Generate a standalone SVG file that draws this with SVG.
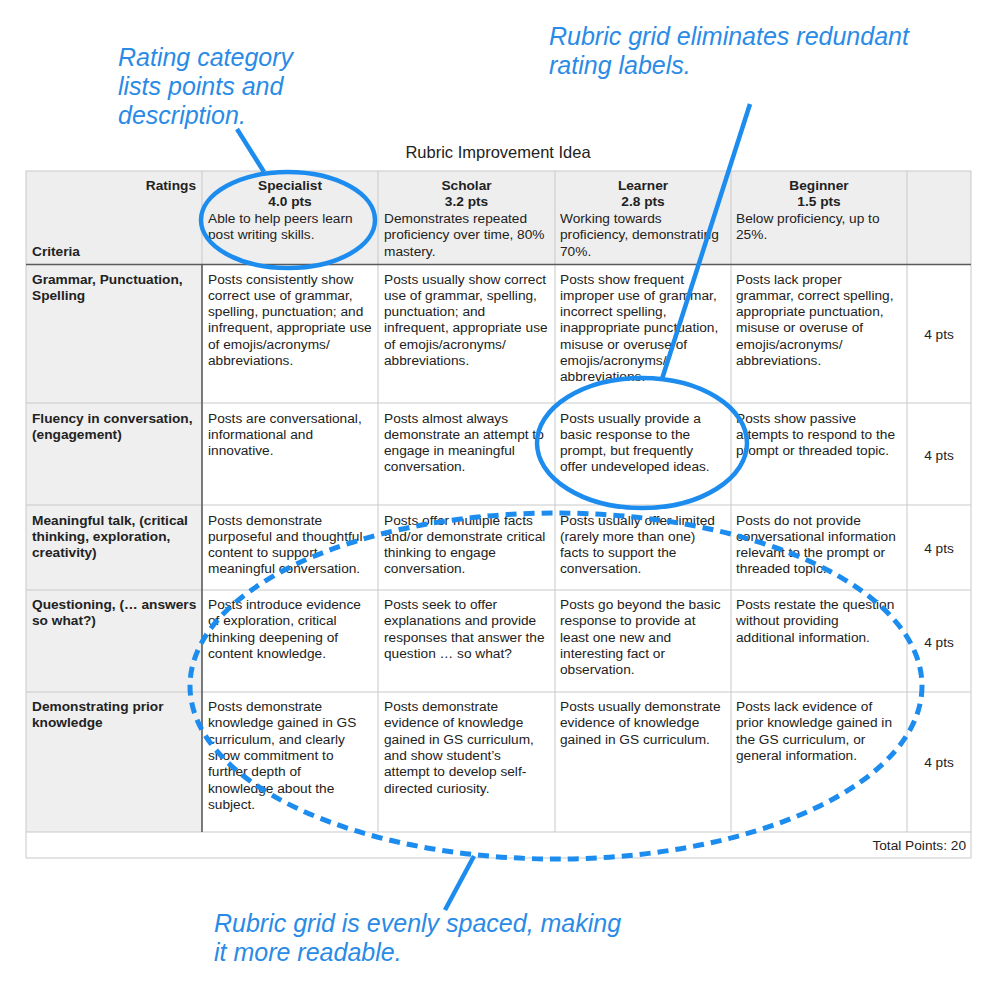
<svg xmlns="http://www.w3.org/2000/svg" width="999" height="991" viewBox="0 0 999 991">
<style>
.t{font-family:"Liberation Sans",Arial,sans-serif;font-size:13.7px;fill:#222}
.b{font-weight:bold}
.c{text-anchor:middle}
.r{text-anchor:end}
.grid{stroke:#c9c9c9;stroke-width:1;fill:none}
.dark{stroke:#5a5a5a;stroke-width:1.6;fill:none}
.ann{font-family:"Liberation Sans",Arial,sans-serif;font-size:25px;font-style:italic;fill:#2a8be6}
.call{stroke:#1c8cee;stroke-width:4.5;fill:none;stroke-linecap:butt}
.dash{stroke:#1c8cee;stroke-width:5;fill:none;stroke-dasharray:11 7}
</style>
<rect width="999" height="991" fill="#ffffff"/>
<text class="t c" x="498" y="158" style="font-size:16.5px">Rubric Improvement Idea</text>
<g id="table">
<rect x="26" y="171" width="945" height="93" fill="#eeeeee"/>
<rect x="26" y="264" width="176" height="568" fill="#efefef"/>
<rect x="26" y="171" width="945" height="687" class="grid"/>
<path class="grid" d="M202 171V264M378 171V832M555 171V832M731 171V832M907 171V832M26 403H971M26 505H971M26 590H971M26 692H971M26 832H971"/>
<path class="dark" d="M26 264.5H971M202 264V832"/>
</g>
<g id="header" class="t">
<text class="t b r" x="196" y="190">Ratings</text>
<text class="t b" x="32" y="255.5">Criteria</text>
<text class="t b c" x="290" y="190">Specialist<tspan x="290" dy="16.4">4.0 pts</tspan></text>
<text class="t" x="208" y="223">Able to help peers learn<tspan x="208" dy="16.3">post writing skills.</tspan></text>
<text class="t b c" x="466.5" y="190">Scholar<tspan x="466.5" dy="16.4">3.2 pts</tspan></text>
<text class="t" x="384" y="223">Demonstrates repeated<tspan x="384" dy="16.3">proficiency over time, 80%</tspan><tspan x="384" dy="16.3">mastery.</tspan></text>
<text class="t b c" x="643" y="190">Learner<tspan x="643" dy="16.4">2.8 pts</tspan></text>
<text class="t" x="560" y="223">Working towards<tspan x="560" dy="16.3">proficiency, demonstrating</tspan><tspan x="560" dy="16.3">70%.</tspan></text>
<text class="t b c" x="819" y="190">Beginner<tspan x="819" dy="16.4">1.5 pts</tspan></text>
<text class="t" x="736" y="223">Below proficiency, up to<tspan x="736" dy="16.3">25%.</tspan></text>
</g>
<g id="row1">
<text class="t b" x="32" y="283.5">Grammar, Punctuation,<tspan x="32" dy="16.3">Spelling</tspan></text>
<text class="t" x="208" y="283.5">Posts consistently show<tspan x="208" dy="16.3">correct use of grammar,</tspan><tspan x="208" dy="16.3">spelling, punctuation; and</tspan><tspan x="208" dy="16.3">infrequent, appropriate use</tspan><tspan x="208" dy="16.3">of emojis/acronyms/</tspan><tspan x="208" dy="16.3">abbreviations.</tspan></text>
<text class="t" x="384" y="283.5">Posts usually show correct<tspan x="384" dy="16.3">use of grammar, spelling,</tspan><tspan x="384" dy="16.3">punctuation; and</tspan><tspan x="384" dy="16.3">infrequent, appropriate use</tspan><tspan x="384" dy="16.3">of emojis/acronyms/</tspan><tspan x="384" dy="16.3">abbreviations.</tspan></text>
<text class="t" x="560" y="283.5">Posts show frequent<tspan x="560" dy="16.3">improper use of grammar,</tspan><tspan x="560" dy="16.3">incorrect spelling,</tspan><tspan x="560" dy="16.3">inappropriate punctuation,</tspan><tspan x="560" dy="16.3">misuse or overuse of</tspan><tspan x="560" dy="16.3">emojis/acronyms/</tspan><tspan x="560" dy="16.3">abbreviations.</tspan></text>
<text class="t" x="736" y="283.5">Posts lack proper<tspan x="736" dy="16.3">grammar, correct spelling,</tspan><tspan x="736" dy="16.3">appropriate punctuation,</tspan><tspan x="736" dy="16.3">misuse or overuse of</tspan><tspan x="736" dy="16.3">emojis/acronyms/</tspan><tspan x="736" dy="16.3">abbreviations.</tspan></text>
<text class="t c" x="939" y="339">4 pts</text>
</g>
<g id="row2">
<text class="t b" x="32" y="422.5">Fluency in conversation,<tspan x="32" dy="16.3">(engagement)</tspan></text>
<text class="t" x="208" y="422.5">Posts are conversational,<tspan x="208" dy="16.3">informational and</tspan><tspan x="208" dy="16.3">innovative.</tspan></text>
<text class="t" x="384" y="422.5">Posts almost always<tspan x="384" dy="16.3">demonstrate an attempt to</tspan><tspan x="384" dy="16.3">engage in meaningful</tspan><tspan x="384" dy="16.3">conversation.</tspan></text>
<text class="t" x="560" y="422.5">Posts usually provide a<tspan x="560" dy="16.3">basic response to the</tspan><tspan x="560" dy="16.3">prompt, but frequently</tspan><tspan x="560" dy="16.3">offer undeveloped ideas.</tspan></text>
<text class="t" x="736" y="422.5">Posts show passive<tspan x="736" dy="16.3">attempts to respond to the</tspan><tspan x="736" dy="16.3">prompt or threaded topic.</tspan></text>
<text class="t c" x="939" y="460">4 pts</text>
</g>
<g id="row3">
<text class="t b" x="32" y="524.5">Meaningful talk, (critical<tspan x="32" dy="16.3">thinking, exploration,</tspan><tspan x="32" dy="16.3">creativity)</tspan></text>
<text class="t" x="208" y="524.5">Posts demonstrate<tspan x="208" dy="16.3">purposeful and thoughtful</tspan><tspan x="208" dy="16.3">content to support</tspan><tspan x="208" dy="16.3">meaningful conversation.</tspan></text>
<text class="t" x="384" y="524.5">Posts offer multiple facts<tspan x="384" dy="16.3">and/or demonstrate critical</tspan><tspan x="384" dy="16.3">thinking to engage</tspan><tspan x="384" dy="16.3">conversation.</tspan></text>
<text class="t" x="560" y="524.5">Posts usually offer limited<tspan x="560" dy="16.3">(rarely more than one)</tspan><tspan x="560" dy="16.3">facts to support the</tspan><tspan x="560" dy="16.3">conversation.</tspan></text>
<text class="t" x="736" y="524.5">Posts do not provide<tspan x="736" dy="16.3">conversational information</tspan><tspan x="736" dy="16.3">relevant to the prompt or</tspan><tspan x="736" dy="16.3">threaded topic.</tspan></text>
<text class="t c" x="939" y="553">4 pts</text>
</g>
<g id="row4">
<text class="t b" x="32" y="609">Questioning, (… answers<tspan x="32" dy="16.3">so what?)</tspan></text>
<text class="t" x="208" y="609">Posts introduce evidence<tspan x="208" dy="16.3">of exploration, critical</tspan><tspan x="208" dy="16.3">thinking deepening of</tspan><tspan x="208" dy="16.3">content knowledge.</tspan></text>
<text class="t" x="384" y="609">Posts seek to offer<tspan x="384" dy="16.3">explanations and provide</tspan><tspan x="384" dy="16.3">responses that answer the</tspan><tspan x="384" dy="16.3">question … so what?</tspan></text>
<text class="t" x="560" y="609">Posts go beyond the basic<tspan x="560" dy="16.3">response to provide at</tspan><tspan x="560" dy="16.3">least one new and</tspan><tspan x="560" dy="16.3">interesting fact or</tspan><tspan x="560" dy="16.3">observation.</tspan></text>
<text class="t" x="736" y="609">Posts restate the question<tspan x="736" dy="16.3">without providing</tspan><tspan x="736" dy="16.3">additional information.</tspan></text>
<text class="t c" x="939" y="647">4 pts</text>
</g>
<g id="row5">
<text class="t b" x="32" y="711">Demonstrating prior<tspan x="32" dy="16.3">knowledge</tspan></text>
<text class="t" x="208" y="711">Posts demonstrate<tspan x="208" dy="16.3">knowledge gained in GS</tspan><tspan x="208" dy="16.3">curriculum, and clearly</tspan><tspan x="208" dy="16.3">show commitment to</tspan><tspan x="208" dy="16.3">further depth of</tspan><tspan x="208" dy="16.3">knowledge about the</tspan><tspan x="208" dy="16.3">subject.</tspan></text>
<text class="t" x="384" y="711">Posts demonstrate<tspan x="384" dy="16.3">evidence of knowledge</tspan><tspan x="384" dy="16.3">gained in GS curriculum,</tspan><tspan x="384" dy="16.3">and show student’s</tspan><tspan x="384" dy="16.3">attempt to develop self-</tspan><tspan x="384" dy="16.3">directed curiosity.</tspan></text>
<text class="t" x="560" y="711">Posts usually demonstrate<tspan x="560" dy="16.3">evidence of knowledge</tspan><tspan x="560" dy="16.3">gained in GS curriculum.</tspan></text>
<text class="t" x="736" y="711">Posts lack evidence of<tspan x="736" dy="16.3">prior knowledge gained in</tspan><tspan x="736" dy="16.3">the GS curriculum, or</tspan><tspan x="736" dy="16.3">general information.</tspan></text>
<text class="t c" x="939" y="767">4 pts</text>
</g>
<g id="total">
<text class="t r" x="966" y="849.5">Total Points: 20</text>
</g>
<g id="note-rating">
<text class="ann" x="118" y="66">Rating category<tspan x="118" dy="29">lists points and</tspan><tspan x="118" dy="29">description.</tspan></text>
</g>
<g id="note-labels">
<text class="ann" x="549" y="45">Rubric grid eliminates redundant<tspan x="549" dy="28.5">rating labels.</tspan></text>
</g>
<g id="note-spacing">
<text class="ann" x="214" y="932">Rubric grid is evenly spaced, making<tspan x="214" dy="28.5">it more readable.</tspan></text>
</g>
<g id="highlights">
<ellipse cx="288" cy="220" rx="87" ry="48" class="call"/>
<ellipse cx="642" cy="443" rx="105" ry="65" class="call"/>
<ellipse cx="556" cy="686" rx="366" ry="173" class="dash"/>
</g>
<g id="connectors">
<line x1="237" y1="129" x2="264" y2="172" class="call"/>
<line x1="750" y1="104" x2="662" y2="379" class="call"/>
<line x1="474" y1="856" x2="445" y2="910" class="call"/>
</g>
</svg>
